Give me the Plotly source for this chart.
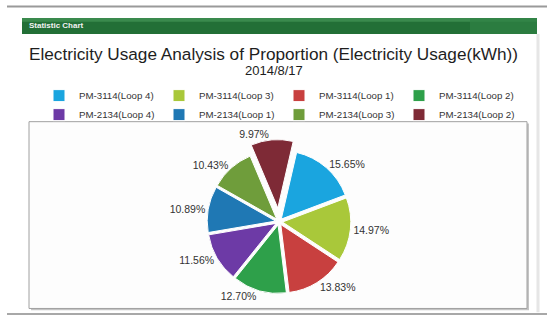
import plotly.graph_objects as go

W, H = 547, 335

# Meter loops and their share of electricity usage (%)
loops = [
    "PM-3114(Loop 4)", "PM-3114(Loop 3)", "PM-3114(Loop 1)", "PM-3114(Loop 2)",
    "PM-2134(Loop 4)", "PM-2134(Loop 1)", "PM-2134(Loop 3)", "PM-2134(Loop 2)",
]
usage_share = [15.65, 14.97, 13.83, 12.70, 11.56, 10.89, 10.43, 9.97]
slice_colors = ["#1aa5df", "#a9c83a", "#c8403f", "#2ea04a",
                "#6d3aa6", "#1f78b4", "#6f9d3b", "#7e2a36"]
slice_pull = [0.05, 0.05, 0.05, 0.05, 0.05, 0.05, 0.05, 0.2]

title_text = "Electricity Usage Analysis of Proportion (Electricity Usage(kWh))"
date_text = "2014/8/17"
header_text = "Statistic Chart"


def px_x(x):
    return x / W


def px_y(y):
    return 1 - y / H


fig = go.Figure()

# pie centre and size in pixels
cx, cy, half = 279, 235, 87
fig.add_trace(go.Pie(
    labels=loops,
    values=usage_share,
    sort=False,
    direction="clockwise",
    rotation=13,
    pull=slice_pull,
    marker=dict(colors=slice_colors, line=dict(color="white", width=1)),
    texttemplate="%{percent:.2%}",
    textposition="outside",
    textfont=dict(family="Liberation Sans, Arial", size=10.5, color="#333333"),
    domain=dict(x=[px_x(cx - half), px_x(cx + half)],
                y=[px_y(cy + half), px_y(cy - half)]),
    hoverinfo="label+percent",
))

shapes = [
    # top and bottom rules
    dict(type="line", x0=px_x(7), x1=1, y0=px_y(7), y1=px_y(7),
         line=dict(color="#9a9a9a", width=2)),
    dict(type="line", x0=px_x(7), x1=1, y0=px_y(333), y1=px_y(333),
         line=dict(color="#a8a8a8", width=2)),
    # outer panel edge
    dict(type="line", x0=px_x(538), x1=px_x(538), y0=px_y(36), y1=px_y(331),
         line=dict(color="#e6e6e6", width=3)),
    # green header bar
    dict(type="rect", x0=px_x(22), x1=px_x(537), y0=px_y(36), y1=px_y(19),
         line=dict(width=0), fillcolor="#226f36"),
    dict(type="rect", x0=px_x(22), x1=px_x(537), y0=px_y(23), y1=px_y(19),
         line=dict(width=0), fillcolor="#3a8a4d"),
    dict(type="rect", x0=px_x(470), x1=px_x(537), y0=px_y(36), y1=px_y(19),
         line=dict(width=0), fillcolor="#2f8244", opacity=0.7),
    # plot frame with soft shadow
    dict(type="rect", x0=px_x(31), x1=px_x(529), y0=px_y(329), y1=px_y(131),
         line=dict(width=0), fillcolor="#c4c4c4"),
    dict(type="rect", x0=px_x(29), x1=px_x(527), y0=px_y(327), y1=px_y(129),
         line=dict(color="#a0a0a0", width=1), fillcolor="#fdfdfd"),
]
for s in shapes:
    s["layer"] = "below"

annotations = [
    dict(text="<b>" + header_text + "</b>", x=px_x(27), y=px_y(27.5),
         xref="paper", yref="paper", xanchor="left", yanchor="middle",
         showarrow=False,
         font=dict(family="Liberation Sans, Arial", size=8, color="#f2f2f2")),
    dict(text=title_text, x=px_x(273.5), y=px_y(57), xref="paper", yref="paper",
         xanchor="center", yanchor="middle", showarrow=False,
         font=dict(family="Liberation Sans, Arial", size=17.2, color="#1e1e1e")),
    dict(text=date_text, x=px_x(273.5), y=px_y(75), xref="paper", yref="paper",
         xanchor="center", yanchor="middle", showarrow=False,
         font=dict(family="Liberation Sans, Arial", size=13, color="#1e1e1e")),
]

fig.update_layout(
    width=W, height=H,
    margin=dict(l=0, r=0, t=0, b=0),
    paper_bgcolor="white",
    plot_bgcolor="white",
    shapes=shapes,
    annotations=annotations,
    showlegend=True,
    legend=dict(
        orientation="h",
        x=px_x(39), y=px_y(86), xanchor="left", yanchor="top",
        entrywidth=75, entrywidthmode="pixels",
        font=dict(family="Liberation Sans, Arial", size=9.7, color="#333333"),
        bgcolor="rgba(0,0,0,0)",
        tracegroupgap=0,
        itemclick=False,
    ),
)

fig.write_html("out.html")
